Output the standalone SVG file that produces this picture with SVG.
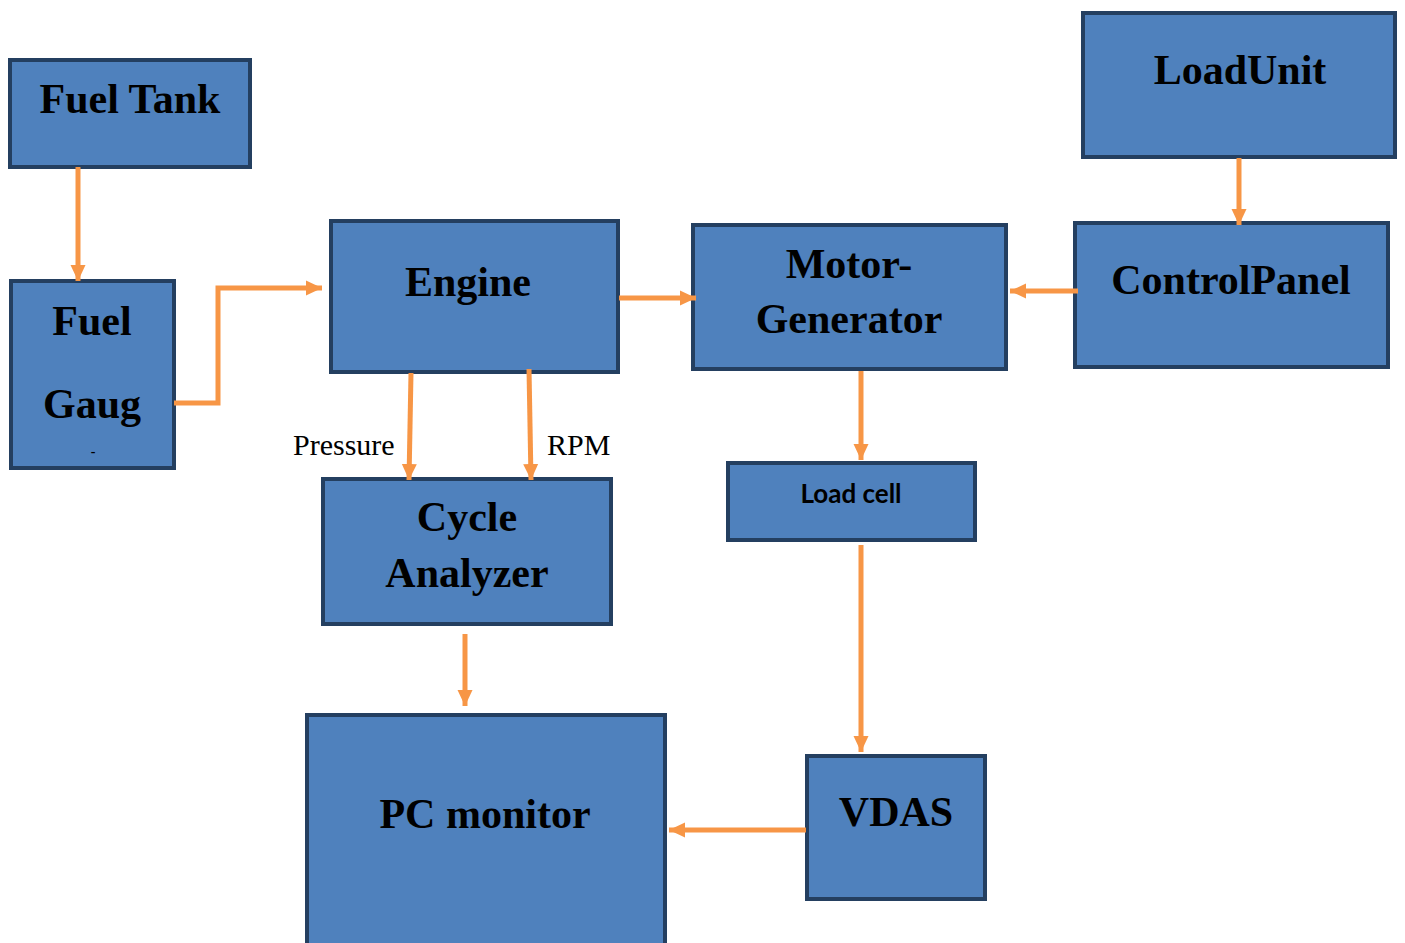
<svg xmlns="http://www.w3.org/2000/svg" width="1405" height="943" viewBox="0 0 1405 943">
<style>
.box{fill:#4F81BD;stroke:#243F60;stroke-width:4}
.t{font-family:"Liberation Serif","Times New Roman",serif;font-weight:bold;font-size:42px;fill:#000;text-anchor:middle}
.lbl{font-family:"Liberation Serif","Times New Roman",serif;font-size:30px;fill:#000}
.s{font-family:Lato,"Liberation Sans",Arial,sans-serif;font-weight:bold;font-size:26px;fill:#000;text-anchor:middle}
.c{fill:none;stroke:#F79646;stroke-width:5}
</style>
<defs>
<marker id="ah" markerUnits="userSpaceOnUse" markerWidth="18" markerHeight="18" viewBox="0 0 18 18" refX="16" refY="9" orient="auto">
<path d="M0,1.5 L16,9 L0,16.5 Z" fill="#F79646"/>
</marker>
</defs>
<rect width="1405" height="943" fill="#fff"/>
<g id="fuel-tank"><rect class="box" x="10" y="60" width="240" height="107"/><text class="t" x="130" y="113">Fuel Tank</text></g>
<g id="fuel-gauge"><rect class="box" x="11" y="281" width="163" height="187"/><text class="t" x="92" y="335">Fuel</text><text class="t" x="92" y="418">Gaug</text><text class="t" x="93" y="456" style="font-size:14px">-</text></g>
<g id="engine"><rect class="box" x="331" y="221" width="287" height="151"/><text class="t" x="468" y="296">Engine</text></g>
<g id="motor-generator"><rect class="box" x="693" y="225" width="313" height="144"/><text class="t" x="849" y="278">Motor-</text><text class="t" x="849" y="333">Generator</text></g>
<g id="control-panel"><rect class="box" x="1075" y="223" width="313" height="144"/><text class="t" x="1231" y="294">ControlPanel</text></g>
<g id="load-unit"><rect class="box" x="1083" y="13" width="312" height="144"/><text class="t" x="1240" y="84">LoadUnit</text></g>
<g id="cycle-analyzer"><rect class="box" x="323" y="479" width="288" height="145"/><text class="t" x="467" y="531">Cycle</text><text class="t" x="467" y="587">Analyzer</text></g>
<g id="load-cell"><rect class="box" x="728" y="463" width="247" height="77"/><text class="s" x="851" y="503">Load cell</text></g>
<g id="pc-monitor"><rect class="box" x="307" y="715" width="358" height="232"/><text class="t" x="485" y="828">PC monitor</text></g>
<g id="vdas"><rect class="box" x="807" y="756" width="178" height="143"/><text class="t" x="896" y="826">VDAS</text></g>
<g id="connectors">
<line class="c" x1="78" y1="167" x2="78" y2="281" marker-end="url(#ah)"/>
<polyline class="c" points="174,403 218,403 218,288 322,288" marker-end="url(#ah)"/>
<line class="c" x1="619" y1="298" x2="696" y2="298" marker-end="url(#ah)"/>
<line class="c" x1="1078" y1="291" x2="1010" y2="291" marker-end="url(#ah)"/>
<line class="c" x1="1239" y1="158" x2="1239" y2="225" marker-end="url(#ah)"/>
<line class="c" x1="411" y1="373" x2="409" y2="480" marker-end="url(#ah)"/>
<line class="c" x1="529" y1="369" x2="531" y2="480" marker-end="url(#ah)"/>
<line class="c" x1="861" y1="371" x2="861" y2="460" marker-end="url(#ah)"/>
<line class="c" x1="861" y1="545" x2="861" y2="752" marker-end="url(#ah)"/>
<line class="c" x1="465" y1="634" x2="465" y2="706" marker-end="url(#ah)"/>
<line class="c" x1="806" y1="830" x2="669" y2="830" marker-end="url(#ah)"/>
<text class="lbl" x="293" y="455">Pressure</text>
<text class="lbl" x="547" y="455">RPM</text>
</g>
</svg>
